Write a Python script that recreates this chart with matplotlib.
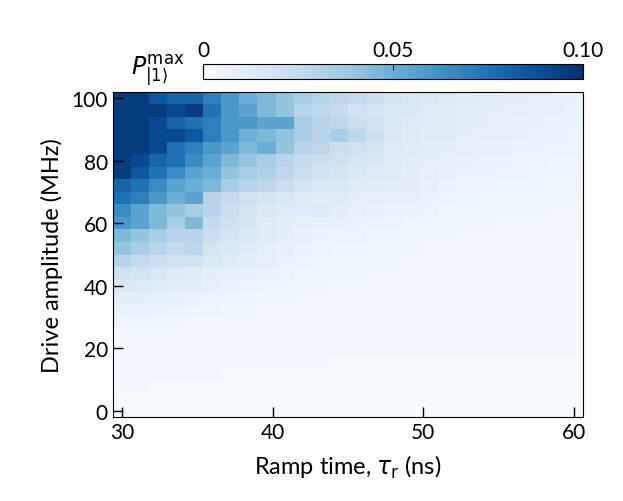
import numpy as np
import matplotlib
matplotlib.use("Agg")
import matplotlib.pyplot as plt

plt.rcParams["font.family"] = "Lato"

# ramp times (ns) and drive amplitudes (MHz), cell centres
ramp_time = [30.0, 31.2, 32.4, 33.6, 34.8, 36.0, 37.2, 38.4, 39.6, 40.8, 42.0, 43.2, 44.4,
             45.6, 46.8, 48.0, 49.2, 50.4, 51.6, 52.8, 54.0, 55.2, 56.4, 57.6, 58.8, 60.0]
drive_amp = list(range(0, 101, 4))

# P_max in units of 1e-3, rows from top (100 MHz) to bottom (0 MHz)
p_rows = [
    [95, 95, 85, 80, 80, 70, 60, 50, 45, 40, 35, 30, 28, 25, 22, 18, 16, 15, 14, 12, 11, 10, 10, 9, 8, 8],
    [95, 95, 95, 90, 95, 75, 60, 55, 45, 40, 30, 28, 25, 20, 18, 15, 15, 13, 12, 11, 10, 10, 9, 8, 8, 7],
    [95, 95, 90, 80, 75, 70, 60, 60, 55, 55, 35, 30, 28, 22, 20, 15, 14, 13, 12, 11, 10, 9, 8, 8, 7, 7],
    [95, 95, 90, 90, 85, 70, 60, 50, 45, 40, 35, 30, 35, 28, 22, 15, 13, 12, 12, 10, 9, 9, 8, 7, 7, 6],
    [95, 95, 90, 75, 70, 60, 55, 45, 50, 40, 30, 28, 22, 20, 18, 14, 12, 11, 10, 9, 8, 8, 7, 7, 6, 6],
    [95, 90, 80, 75, 65, 55, 45, 40, 35, 30, 25, 22, 20, 18, 16, 13, 11, 10, 9, 8, 7, 7, 6, 6, 5, 5],
    [95, 85, 75, 65, 55, 50, 40, 35, 32, 28, 22, 20, 18, 15, 14, 12, 10, 9, 8, 7, 7, 6, 6, 5, 5, 5],
    [80, 75, 65, 55, 50, 45, 35, 30, 28, 22, 18, 16, 15, 13, 12, 11, 10, 8, 7, 6, 6, 5, 5, 5, 4, 4],
    [75, 70, 60, 50, 55, 30, 25, 20, 18, 16, 14, 12, 12, 10, 9, 8, 8, 7, 6, 5, 5, 5, 4, 4, 4, 4],
    [65, 55, 45, 40, 35, 30, 22, 18, 15, 13, 13, 14, 10, 9, 8, 7, 7, 6, 5, 5, 4, 4, 4, 4, 3, 3],
    [60, 55, 45, 35, 45, 25, 20, 18, 12, 10, 9, 8, 8, 7, 6, 6, 5, 5, 4, 4, 4, 3, 3, 3, 3, 3],
    [45, 40, 35, 30, 30, 22, 18, 15, 12, 10, 8, 7, 6, 6, 5, 5, 4, 4, 4, 3, 3, 3, 3, 3, 3, 3],
    [40, 35, 30, 25, 28, 18, 15, 13, 10, 8, 7, 6, 5, 5, 4, 4, 4, 3, 3, 3, 3, 3, 3, 3, 2, 2],
    [30, 25, 22, 20, 20, 15, 13, 11, 9, 7, 6, 5, 5, 4, 4, 4, 3, 3, 3, 3, 3, 2, 2, 2, 2, 2],
    [20, 18, 16, 14, 12, 10, 9, 8, 7, 6, 5, 4, 4, 4, 3, 3, 3, 3, 2, 2, 2, 2, 2, 2, 2, 2],
    [15, 14, 12, 11, 10, 8, 7, 6, 5, 5, 4, 4, 3, 3, 3, 3, 2, 2, 2, 2, 2, 2, 2, 2, 2, 2],
    [10, 10, 9, 8, 7, 6, 5, 5, 4, 4, 3, 3, 3, 3, 2, 2, 2, 2, 2, 2, 2, 2, 2, 2, 2, 2],
    [7, 7, 6, 6, 5, 5, 4, 4, 3, 3, 3, 3, 2, 2, 2, 2, 2, 2, 2, 2, 2, 2, 2, 2, 2, 2],
    [4, 4, 4, 4, 3, 3, 3, 3, 3, 2, 2, 2, 2, 2, 2, 2, 2, 2, 2, 2, 2, 2, 2, 2, 2, 2],
    [3, 3, 3, 3, 3, 2, 2, 2, 2, 2, 2, 2, 2, 2, 2, 2, 2, 2, 2, 2, 2, 2, 2, 2, 2, 2],
    [3, 3, 2, 2, 2, 2, 2, 2, 2, 2, 2, 2, 2, 2, 2, 2, 2, 2, 2, 2, 2, 2, 2, 2, 2, 2],
    [2, 2, 2, 2, 2, 2, 2, 2, 2, 2, 2, 2, 1, 1, 1, 1, 1, 1, 1, 1, 1, 1, 1, 1, 1, 1],
    [2, 2, 2, 2, 2, 2, 1, 1, 1, 1, 1, 1, 1, 1, 1, 1, 1, 1, 1, 1, 1, 1, 1, 1, 1, 1],
    [2, 2, 1, 1, 1, 1, 1, 1, 1, 1, 1, 1, 1, 1, 1, 1, 1, 1, 1, 1, 1, 1, 1, 1, 1, 1],
    [1, 1, 1, 1, 1, 1, 1, 1, 1, 1, 1, 1, 1, 1, 1, 1, 1, 1, 1, 1, 1, 1, 1, 1, 1, 1],
    [1, 1, 1, 1, 1, 1, 1, 1, 1, 1, 1, 1, 1, 1, 1, 1, 1, 1, 1, 1, 1, 1, 1, 1, 1, 1],
]
P = np.array(p_rows[::-1], float) * 1e-3

fig = plt.figure(figsize=(6.23, 5.02), dpi=100)
ax = fig.add_axes([0.181, 0.167, 0.755, 0.648])
mesh = ax.pcolormesh(ramp_time, drive_amp, P, cmap="Blues", vmin=0, vmax=0.10,
                     shading="nearest")
ax.set_xlim(29.4, 60.6)
ax.set_ylim(-2, 102)
ax.set_xticks([30, 40, 50, 60])
ax.set_yticks([0, 20, 40, 60, 80, 100])
ax.tick_params(direction="in", labelsize=15, length=7, width=1)
ax.set_xlabel(r"Ramp time, $\tau_\mathrm{r}$ (ns)", fontsize=17, labelpad=8)
ax.set_ylabel("Drive amplitude (MHz)", fontsize=17, labelpad=6)

cax = fig.add_axes([0.326, 0.841, 0.61, 0.03])
cb = fig.colorbar(mesh, cax=cax, orientation="horizontal")
cb.set_ticks([0, 0.05, 0.10])
cb.set_ticklabels(["0", "0.05", "0.10"])
cax.xaxis.set_ticks_position("top")
cax.tick_params(direction="in", labelsize=15, length=4, pad=3)
fig.text(0.21, 0.86, r"$P^{\mathrm{max}}_{|1\rangle}$", fontsize=17, ha="left", va="center")

fig.savefig("out.png", dpi=100)
